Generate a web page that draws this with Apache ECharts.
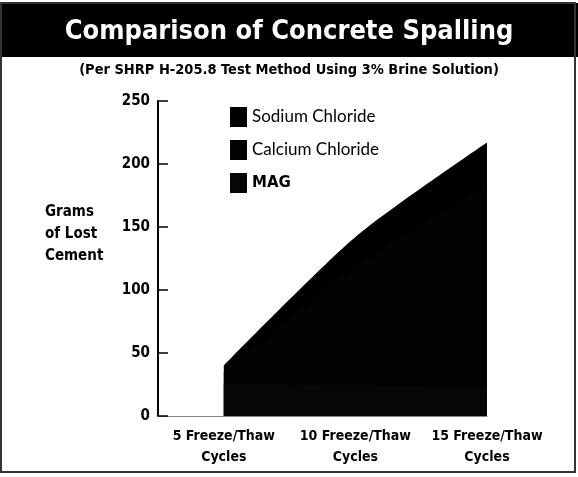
<!DOCTYPE html>
<html>
<head>
<meta charset="utf-8">
<script src="https://cdn.jsdelivr.net/npm/echarts@6/dist/echarts.min.js"></script>
<style>html,body{margin:0;padding:0;background:#fff}#c{width:578px;height:477px}</style>
</head>
<body>
<div id="c"></div>
<script>
const cycles = [5, 10, 15];
const xLabels = ['5 Freeze/Thaw\nCycles', '10 Freeze/Thaw\nCycles', '15 Freeze/Thaw\nCycles'];
const seriesNames = ['Sodium Chloride', 'Calcium Chloride', 'MAG'];
const sodium = [40, 142, 217];
const calcium = [34, 118, 182];
const mag = [26, 24, 22];
const yTicks = [0, 50, 100, 150, 200, 250];

const cond = '"Liberation Sans Narrow", "DejaVu Sans Condensed", "Arial Narrow", sans-serif';
const chart = echarts.init(document.getElementById('c'), null, {renderer: 'canvas'});
const pts = arr => cycles.map((c, i) => [c, arr[i]]);
const colors = ['#000000', '#030303', '#060606'];
const values = [sodium, calcium, mag];

chart.setOption({
  backgroundColor: '#fff',
  animation: false,
  title: [
    {text: 'Comparison of Concrete Spalling', left: 'center', top: 13,
     textStyle: {color: '#fff', fontFamily: cond, fontWeight: 'bold', fontSize: 27}},
    {text: '(Per SHRP H-205.8 Test Method Using 3% Brine Solution)', left: 'center', top: 58,
     textStyle: {color: '#000', fontFamily: cond, fontWeight: 'bold', fontSize: 14.5}}
  ],
  graphic: [
    {type: 'rect', z: -10, shape: {x: 0, y: 3, width: 578, height: 54}, style: {fill: '#000'}},
    {type: 'rect', z: -10, shape: {x: 1, y: 3, width: 574, height: 469}, style: {fill: 'none', stroke: '#333', lineWidth: 2}},
    {type: 'text', left: 45, top: 201, style: {text: 'Grams\nof Lost\nCement', fill: '#000', font: 'bold 15px "Liberation Sans Narrow", "DejaVu Sans Condensed", sans-serif', lineHeight: 22, align: 'left'}}
  ],
  legend: {
    orient: 'vertical', left: 225, top: 102, itemWidth: 17, itemHeight: 20, itemGap: 13,
    icon: 'rect',
    data: seriesNames,
    formatter: n => n === 'MAG' ? '{m|MAG}' : n,
    textStyle: {color: '#000', fontFamily: 'Lato', fontSize: 17,
      rich: {m: {fontFamily: 'DejaVu Sans', fontWeight: 'bold', fontSize: 15, color: '#000'}}}
  },
  grid: {left: 158, right: 91, top: 101, bottom: 61, containLabel: false},
  xAxis: {
    type: 'value', min: 2.5, max: 15,
    axisLine: {show: true, onZero: false, lineStyle: {color: '#888', width: 1}},
    axisTick: {show: false},
    splitLine: {show: false},
    axisLabel: {
      customValues: cycles, showMaxLabel: true, showMinLabel: true,
      formatter: v => { const i = cycles.indexOf(v); return i >= 0 ? xLabels[i] : ''; },
      color: '#000', fontFamily: cond, fontWeight: 'bold', fontSize: 14, lineHeight: 21, margin: 10
    }
  },
  yAxis: {
    type: 'value', min: 0, max: 250, interval: 50,
    axisLine: {show: true, lineStyle: {color: '#000', width: 2}},
    axisTick: {show: true, inside: true, length: 10, lineStyle: {color: '#000', width: 1.5}},
    splitLine: {show: false},
    axisLabel: {color: '#000', fontFamily: cond, fontWeight: 'bold', fontSize: 15, margin: 8,
      formatter: v => yTicks.includes(v) ? String(v) : ''}
  },
  series: seriesNames.map((n, i) => ({
    name: n, type: 'line', data: pts(values[i]), symbol: 'none', smooth: 0.25,
    lineStyle: {width: 0}, itemStyle: {color: colors[i]},
    areaStyle: {color: colors[i], opacity: 1}
  }))
});
</script>
</body>
</html>
